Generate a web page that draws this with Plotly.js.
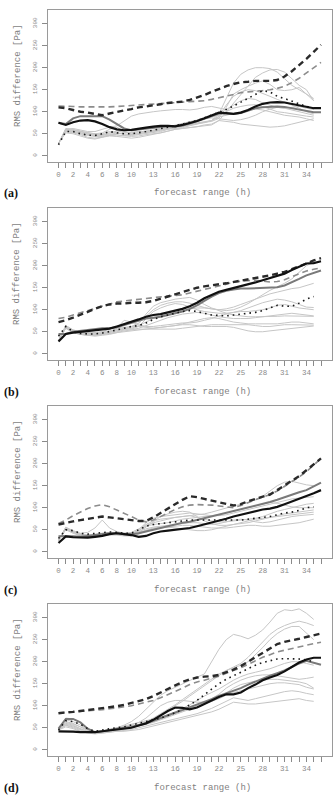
<!DOCTYPE html>
<html>
<head>
<meta charset="utf-8">
<script src="https://cdn.plot.ly/plotly-3.0.1.min.js"></script>
<style>
  html, body { margin: 0; padding: 0; background: #fff; }
  #chart { width: 336px; height: 802px; }
</style>
</head>
<body>
<div id="chart"></div>
<script>
// Forecast hours (0-36) and the labelled subset of them
const hours = Array.from({length: 37}, (_, i) => i);
const memberHours = hours.slice(0, 36);
const labelledHours = [0, 2, 4, 6, 8, 10, 13, 16, 19, 22, 25, 28, 31, 34];
const yTicks = [0, 50, 100, 150, 200, 250, 300];
const panelLabels = ["(a)", "(b)", "(c)", "(d)"];

// ---- Panel (a) ----
const aBlack = [75,70,76,80,81,78,72,65,60,58,59,62,64,66,68,68,67,70,74,79,85,92,98,97,95,98,104,112,118,121,122,121,118,114,111,108,108];
const aGray = [75,72,85,90,90,90,90,82,72,62,58,60,62,64,66,67,67,69,73,78,84,90,96,96,95,97,102,108,110,111,112,111,108,104,101,99,99];
const aDash = [110,108,104,100,98,95,92,96,100,103,106,110,112,114,117,120,121,123,127,132,138,145,152,158,163,167,168,170,170,170,172,180,192,205,220,236,252];
const aGrayDash = [113,113,112,111,111,110,110,111,112,113,114,115,116,117,118,119,120,121,122,123,125,128,132,136,140,143,145,146,148,150,153,158,166,176,188,200,212];
const aDot = [25,55,55,50,47,46,50,55,52,50,50,52,55,58,62,65,68,72,76,80,86,92,98,105,113,122,130,140,148,145,135,130,124,118,112,108];
const aMembers = [
  [28,60,58,55,50,48,50,55,52,48,46,48,50,52,55,60,65,70,72,75,78,80,95,130,165,185,195,200,200,198,190,175,160,150,140,130],
  [28,58,56,52,48,45,46,50,48,45,44,45,48,50,52,56,60,62,64,66,70,72,80,100,120,140,160,178,188,195,196,190,175,160,150,125],
  [28,62,60,56,52,50,52,60,65,55,50,52,55,58,60,62,64,66,70,74,76,78,85,110,140,150,158,165,170,162,150,148,150,155,140,125],
  [28,60,62,58,55,55,60,65,68,80,90,95,98,100,102,104,105,105,104,106,110,112,108,105,115,125,130,128,120,115,110,108,110,112,108,105],
  [28,55,52,48,42,40,42,45,44,42,40,42,45,48,52,56,60,62,64,66,68,70,80,78,76,72,70,68,66,65,66,68,72,76,80,84],
  [28,56,54,50,46,44,44,46,50,52,54,55,56,58,62,66,70,74,78,82,85,88,92,100,108,112,115,116,112,106,100,98,95,92,90,88],
  [28,52,50,45,40,38,42,48,52,50,48,50,52,55,58,62,66,68,70,72,75,80,90,115,135,145,150,148,142,135,128,122,115,108,100,95],
  [28,60,58,55,52,50,48,46,45,46,48,50,52,55,58,60,62,64,68,72,76,80,88,92,96,100,104,106,104,100,96,92,90,88,84,80],
  [28,57,55,52,48,46,48,52,56,54,52,54,56,58,60,64,68,72,76,80,84,86,84,82,80,82,86,92,100,106,110,108,104,100,96,92]
];

// ---- Panel (b) ----
const bBlack = [28,45,48,50,52,54,55,57,62,67,73,78,84,88,90,94,98,102,108,116,126,134,141,145,149,154,158,162,167,172,177,182,190,198,205,206,210];
const bGray = [45,45,50,52,54,56,58,58,60,65,70,75,80,82,84,88,92,96,102,110,120,130,138,143,146,148,148,149,150,150,151,155,162,170,178,184,189];
const bDash = [72,76,82,88,95,102,108,112,114,114,116,116,117,120,125,130,135,140,146,150,153,156,158,160,163,166,168,172,175,178,182,186,192,198,205,212,217];
const bGrayDash = [80,83,88,93,98,103,108,112,118,120,122,124,126,128,130,131,132,134,138,142,146,150,153,158,163,165,166,167,165,163,164,168,175,182,188,192,195];
const bDot = [40,62,50,46,45,45,47,50,54,58,62,64,70,78,84,88,92,96,98,96,92,88,87,86,88,90,92,94,98,104,110,108,108,115,124,130];
const bMembers = [
  [30,60,50,46,44,44,46,50,55,58,62,70,85,100,110,115,118,118,115,110,105,102,100,102,106,112,118,124,130,136,140,144,148,150,155,160],
  [30,58,48,44,42,42,44,46,50,54,58,64,72,80,86,90,94,98,102,104,104,102,100,98,100,106,114,124,134,144,152,160,170,185,200,208],
  [30,64,54,50,48,48,50,56,60,58,56,62,80,96,104,110,114,112,106,100,96,94,92,92,94,98,104,110,116,120,124,122,118,112,106,105],
  [30,60,50,45,42,40,42,44,48,52,54,58,64,70,76,82,86,90,92,94,92,88,84,82,80,80,80,82,84,86,88,90,92,90,88,86],
  [30,62,52,48,46,46,48,50,54,56,56,56,56,56,56,56,56,58,60,62,64,66,66,66,66,66,66,64,62,62,64,66,66,66,66,65],
  [30,58,48,44,42,42,44,46,48,50,52,54,56,58,60,62,64,66,66,64,62,62,62,62,60,56,52,50,50,52,54,56,58,60,62,63],
  [30,60,50,46,44,44,46,50,58,76,72,66,62,62,64,66,68,70,70,72,76,80,86,90,94,96,96,98,100,104,110,112,108,104,102,100],
  [30,64,54,50,48,48,50,52,56,60,62,62,60,58,60,62,64,68,72,76,80,82,80,76,72,70,68,68,68,68,68,70,72,72,70,68],
  [30,60,50,46,44,44,46,48,52,56,60,68,90,108,116,120,124,126,128,122,112,104,98,92,88,86,84,84,84,84,85,86,86,86,85,85]
];

// ---- Panel (c) ----
const cBlack = [20,35,33,32,32,34,36,40,42,40,38,34,36,42,46,48,50,52,54,58,62,66,70,75,80,84,88,92,96,98,102,108,114,120,127,133,140];
const cGray = [35,36,35,34,36,38,40,42,42,40,40,42,46,50,54,58,62,66,68,72,76,80,84,88,92,96,100,104,108,113,118,124,130,135,140,148,157];
const cDash = [62,66,69,72,75,78,80,78,76,74,72,70,70,78,88,98,108,118,126,124,120,116,112,108,105,108,115,120,125,130,140,150,160,172,185,198,212];
const cGrayDash = [64,72,82,90,98,104,107,102,95,88,80,72,68,72,80,88,96,102,106,107,107,106,104,102,100,105,112,118,124,130,138,148,158,170,182,196,212];
const cDot = [30,50,48,42,40,42,44,45,44,42,42,50,58,62,64,66,68,70,72,72,72,72,72,72,72,72,74,76,78,80,84,88,90,94,100,102];
const cMembers = [
  [25,55,45,40,38,38,42,44,42,40,40,48,60,66,70,74,78,80,82,84,86,90,95,100,104,108,112,118,126,138,150,158,160,156,152,150],
  [25,52,44,38,36,36,40,42,40,38,40,50,66,76,80,82,84,86,88,86,84,82,82,84,88,92,96,100,104,108,112,116,120,122,124,125],
  [25,56,48,42,44,54,72,54,46,42,44,52,62,70,74,76,78,80,82,78,74,70,68,68,70,72,74,76,80,86,92,96,100,104,108,110],
  [25,50,42,36,34,34,36,38,38,36,36,40,48,52,54,56,58,60,60,58,56,54,54,54,56,58,60,60,58,58,60,62,64,66,70,74],
  [25,54,46,40,38,38,40,42,42,40,38,44,56,68,80,86,90,92,90,80,70,64,60,60,62,64,66,70,74,78,82,86,88,90,92,95],
  [25,52,44,38,36,36,38,40,42,42,42,46,52,56,58,60,62,64,66,66,64,62,64,68,72,74,72,68,66,68,72,76,80,82,84,85],
  [25,55,46,40,38,40,42,44,44,42,42,48,58,62,64,66,70,74,76,78,80,82,84,88,92,96,100,104,108,112,110,106,102,100,100,100],
  [25,53,45,39,37,37,39,41,41,39,39,44,50,54,56,56,54,52,50,48,48,50,54,58,62,66,70,74,76,78,80,82,84,86,88,90]
];

// ---- Panel (d) ----
const dBlack = [42,42,41,40,40,40,42,44,46,48,50,55,60,68,78,88,96,95,92,96,104,112,120,126,126,130,140,148,158,164,170,178,188,198,205,209,209];
const dGray = [48,70,70,62,48,40,42,45,48,50,52,56,60,66,72,78,84,90,96,102,108,115,122,128,134,140,148,155,162,168,174,180,188,196,202,198,193];
const dDash = [83,84,86,88,90,92,94,96,99,102,106,110,115,122,130,138,146,154,160,164,166,167,170,176,182,190,200,210,220,230,240,245,248,252,256,260,264];
const dGrayDash = [84,85,86,87,88,89,91,93,95,97,100,104,108,112,118,125,132,140,148,154,158,162,167,174,180,186,194,202,210,216,222,226,230,234,238,241,244];
const dDot = [45,66,64,58,48,42,45,48,50,52,56,60,64,68,72,78,84,92,102,112,125,138,150,160,168,176,184,192,198,202,206,207,207,206,204,200];
const dMembers = [
  [45,62,58,52,44,40,42,46,50,56,64,76,92,110,124,134,142,150,158,165,172,200,228,250,262,258,252,260,272,290,310,318,316,320,310,296],
  [45,58,54,48,42,40,42,44,46,48,52,56,62,70,80,90,100,110,122,134,146,158,170,180,188,196,210,228,246,262,274,282,288,292,288,282],
  [45,72,70,62,46,40,42,46,48,50,54,58,64,72,82,92,102,114,126,138,150,162,172,180,186,192,200,215,232,250,264,274,280,280,266,250],
  [45,56,52,46,40,38,40,42,44,46,50,54,58,64,70,76,82,88,94,100,108,116,126,140,150,158,164,168,170,170,168,165,162,160,162,165],
  [45,64,60,52,44,38,40,44,46,48,50,54,58,62,68,74,80,86,92,98,104,110,118,130,140,148,152,156,158,160,160,158,156,154,150,140],
  [45,55,50,44,40,38,38,40,42,44,46,50,54,58,62,66,70,74,78,82,88,94,102,110,118,115,112,116,120,124,128,132,134,132,128,125],
  [45,52,48,42,38,36,38,40,42,42,44,46,50,54,58,62,66,70,74,78,82,86,92,100,108,106,104,104,106,108,110,112,114,116,112,110],
  [45,60,56,48,40,38,40,44,48,52,56,62,72,86,100,108,112,112,110,108,108,110,116,124,130,134,138,142,146,150,152,152,150,148,142,138],
  [45,68,64,56,44,40,42,46,50,54,58,62,66,70,74,80,86,94,102,112,122,130,138,148,158,166,172,176,180,184,190,196,200,200,196,192]
];

const panels = [
  {members: aMembers, gray: aGray, black: aBlack, grayDash: aGrayDash, dash: aDash, dot: aDot},
  {members: bMembers, gray: bGray, black: bBlack, grayDash: bGrayDash, dash: bDash, dot: bDot},
  {members: cMembers, gray: cGray, black: cBlack, grayDash: cGrayDash, dash: cDash, dot: cDot},
  {members: dMembers, gray: dGray, black: dBlack, grayDash: dGrayDash, dash: dDash, dot: dDot}
];

// Page geometry in pixels
const W = 336, H = 802;
const boxLeft = 48, boxRight = 331.5, boxH = 151.5;
const boxTops = [10, 208, 406, 604];
const mono = "Liberation Mono, Courier New, monospace";

const traces = [];
const layout = {
  width: W, height: H,
  margin: {l: 0, r: 0, t: 0, b: 0},
  paper_bgcolor: "#ffffff",
  plot_bgcolor: "#ffffff",
  showlegend: false,
  annotations: []
};

panels.forEach((p, i) => {
  const n = i === 0 ? "" : String(i + 1);
  const xa = "x" + n, ya = "y" + n;
  const line = (x, y, color, width, dash) => ({
    type: "scatter", mode: "lines", x: x, y: y, xaxis: xa, yaxis: ya,
    line: {color: color, width: width, dash: dash || "solid"},
    hoverinfo: "skip"
  });
  p.members.forEach(m => traces.push(line(memberHours, m, "#c6c6c6", 1)));
  traces.push(line(hours, p.gray, "#7a7a7a", 2));
  traces.push(line(hours, p.grayDash, "#8c8c8c", 1.6, "6px,4px"));
  traces.push(line(hours, p.dash, "#2a2a2a", 2.4, "6px,4px"));
  traces.push(line(memberHours, p.dot, "#1a1a1a", 1.6, "1.6px,4px"));
  traces.push(line(hours, p.black, "#111111", 2.2));

  const top = boxTops[i];
  layout["xaxis" + n] = {
    domain: [boxLeft / W, boxRight / W],
    anchor: ya,
    range: [-1.44, 37.44],
    tickvals: hours,
    ticktext: hours.map(h => labelledHours.includes(h) ? String(h) : ""),
    ticks: "outside", ticklen: 5, tickcolor: "#8a8a8a", tickwidth: 1,
    tickfont: {family: mono, size: 7.5, color: "#8a8a8a"},
    tickangle: 0,
    showline: true, mirror: true, linecolor: "#9a9a9a", linewidth: 1,
    showgrid: false, zeroline: false, fixedrange: true
  };
  layout["yaxis" + n] = {
    domain: [1 - (top + boxH) / H, 1 - top / H],
    anchor: xa,
    range: [-13, 331],
    tickvals: yTicks,
    ticks: "outside", ticklen: 5, tickcolor: "#8a8a8a", tickwidth: 1,
    tickfont: {family: mono, size: 6, color: "#8a8a8a"},
    tickangle: -90,
    ticklabelstandoff: 3,
    showline: true, mirror: true, linecolor: "#9a9a9a", linewidth: 1,
    showgrid: false, zeroline: false, fixedrange: true
  };

  // axis titles and panel letter
  layout.annotations.push({
    xref: "paper", yref: "paper",
    x: 202 / W, y: 1 - (top + 183.5) / H,
    xanchor: "center", yanchor: "middle", showarrow: false,
    text: "forecast range (h)",
    font: {family: mono, size: 9, color: "#7f7f7f"}
  });
  layout.annotations.push({
    xref: "paper", yref: "paper",
    x: 17.5 / W, y: 1 - (top + 65.5) / H,
    xanchor: "center", yanchor: "middle", showarrow: false,
    textangle: -90,
    text: "RMS difference [Pa]",
    font: {family: mono, size: 9, color: "#7f7f7f"}
  });
  layout.annotations.push({
    xref: "paper", yref: "paper",
    x: 2 / W, y: 1 - (top + 183.5) / H,
    xanchor: "left", yanchor: "middle", showarrow: false,
    text: "<b>" + panelLabels[i] + "</b>",
    font: {family: "Liberation Serif, DejaVu Serif, serif", size: 12, color: "#111111"}
  });
});

Plotly.newPlot("chart", traces, layout, {staticPlot: true, displayModeBar: false});
</script>
</body>
</html>
